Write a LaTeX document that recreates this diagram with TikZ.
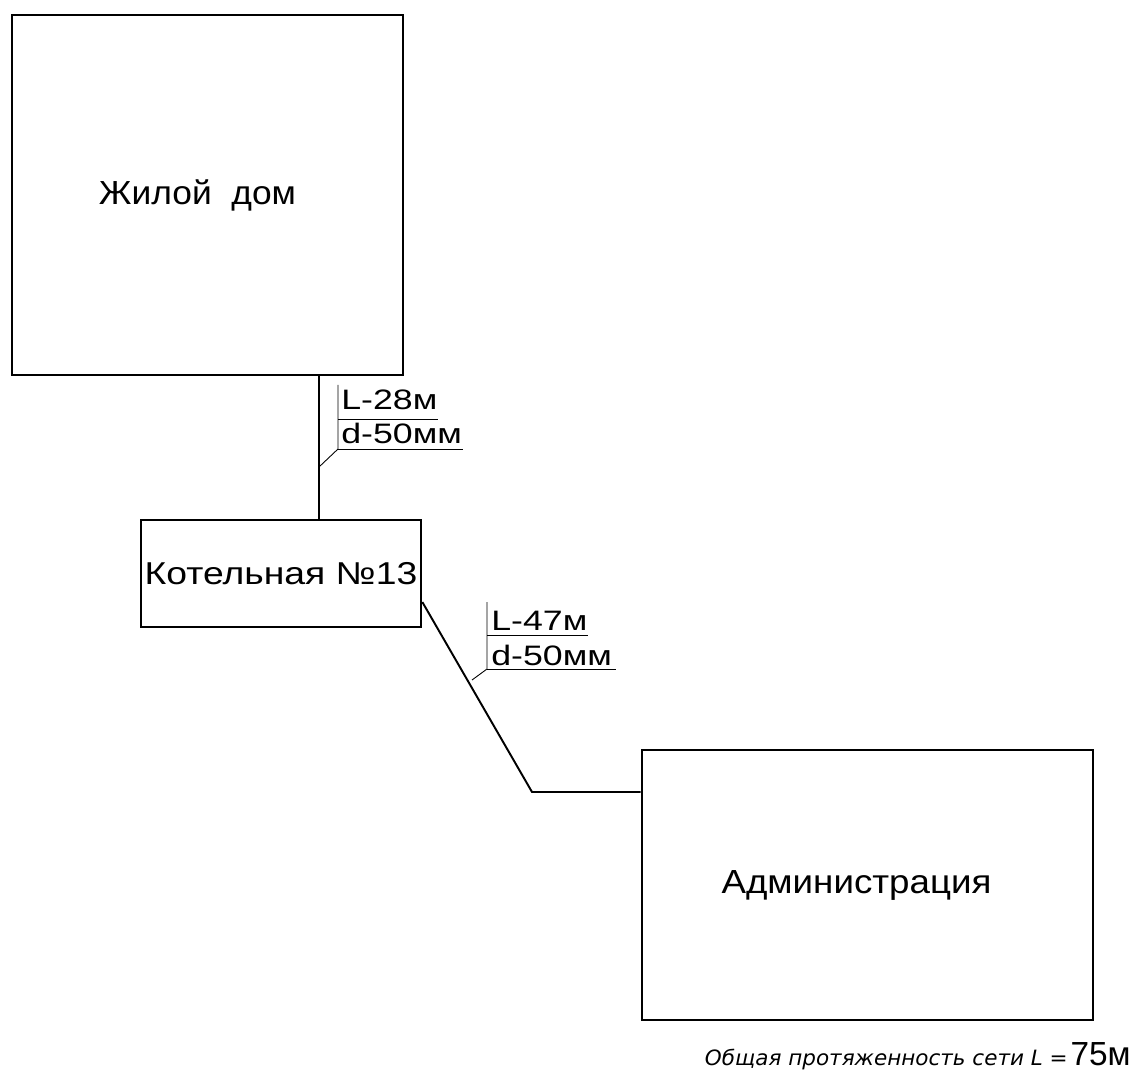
\documentclass[tikz,border=0pt]{standalone}
\usepackage{fontspec}
\usepackage{graphicx}
\setmainfont{Liberation Sans}
\newfontfamily\notefont{DejaVu Sans}
\usetikzlibrary{positioning, calc}
\newcommand{\wide}[2]{\scalebox{#1}[1]{#2}}

\begin{document}
\begin{tikzpicture}[x=0.02cm, y=-0.02cm]
    % Styles
    \tikzstyle{building} = [rectangle, draw, line width=1.5pt, inner sep=0pt, font=\fontsize{19}{22}\selectfont]
    \tikzstyle{pipe} = [line width=1.1pt]
    \tikzstyle{leader} = [line width=0.5pt]
    \tikzstyle{tag} = [anchor=base west, inner sep=0pt, font=\fontsize{16}{19}\selectfont]

    \useasboundingbox (0,0) rectangle (1135,1077);

    % Nodes
    \node [building, minimum width=391*0.02cm, minimum height=360*0.02cm] (house) at (207.5,195) {\wide{1.06}{Жилой\ \ дом}\kern0.4cm};
    \node [building, minimum width=280*0.02cm, minimum height=107*0.02cm, font=\fontsize{18}{21}\selectfont] (boiler) at (281,573.5) {\wide{1.18}{Котельная №13}};
    \node [building, minimum width=451*0.02cm, minimum height=270*0.02cm] (admin) at (867.5,885) {\wide{1.1}{Администрация}\kern0.44cm};

    % Pipes
    \coordinate (riser) at (319,0);
    \coordinate (bend) at (532,792);
    \draw [pipe] (house.south -| riser) -- (boiler.north -| riser);
    \draw [pipe] (boiler.east |- 0,602) -- (bend) -- (admin.west |- bend);

    % Labels
    \coordinate (tap1) at (319,467);
    \coordinate (tap2) at (472,680);
    \draw [leader] (tap1) -- (338,449) -- (338,385);
    \draw [leader] (338,419) -- (438,419);
    \draw [leader] (338,449) -- (463,449);
    \node [tag] (len1) at (341,410) {\wide{1.27}{L-28м}};
    \node [tag] (dia1) at (341,443) {\wide{1.27}{d-50мм}};

    \draw [leader] (tap2) -- (487,669) -- (487,602);
    \draw [leader] (487,635) -- (588,635);
    \draw [leader] (487,669) -- (616,669);
    \node [tag] (len2) at (491,630) {\wide{1.27}{L-47м}};
    \node [tag] (dia2) at (491,665) {\wide{1.27}{d-50мм}};

    \node [anchor=base east, inner sep=0pt] (total) at (1131,1065) {\wide{1.02}{\notefont\itshape\fontsize{12}{14}\selectfont Общая протяженность сети \textit{L} =}\,{\fontsize{19}{22}\selectfont 75м}};
\end{tikzpicture}
\end{document}
